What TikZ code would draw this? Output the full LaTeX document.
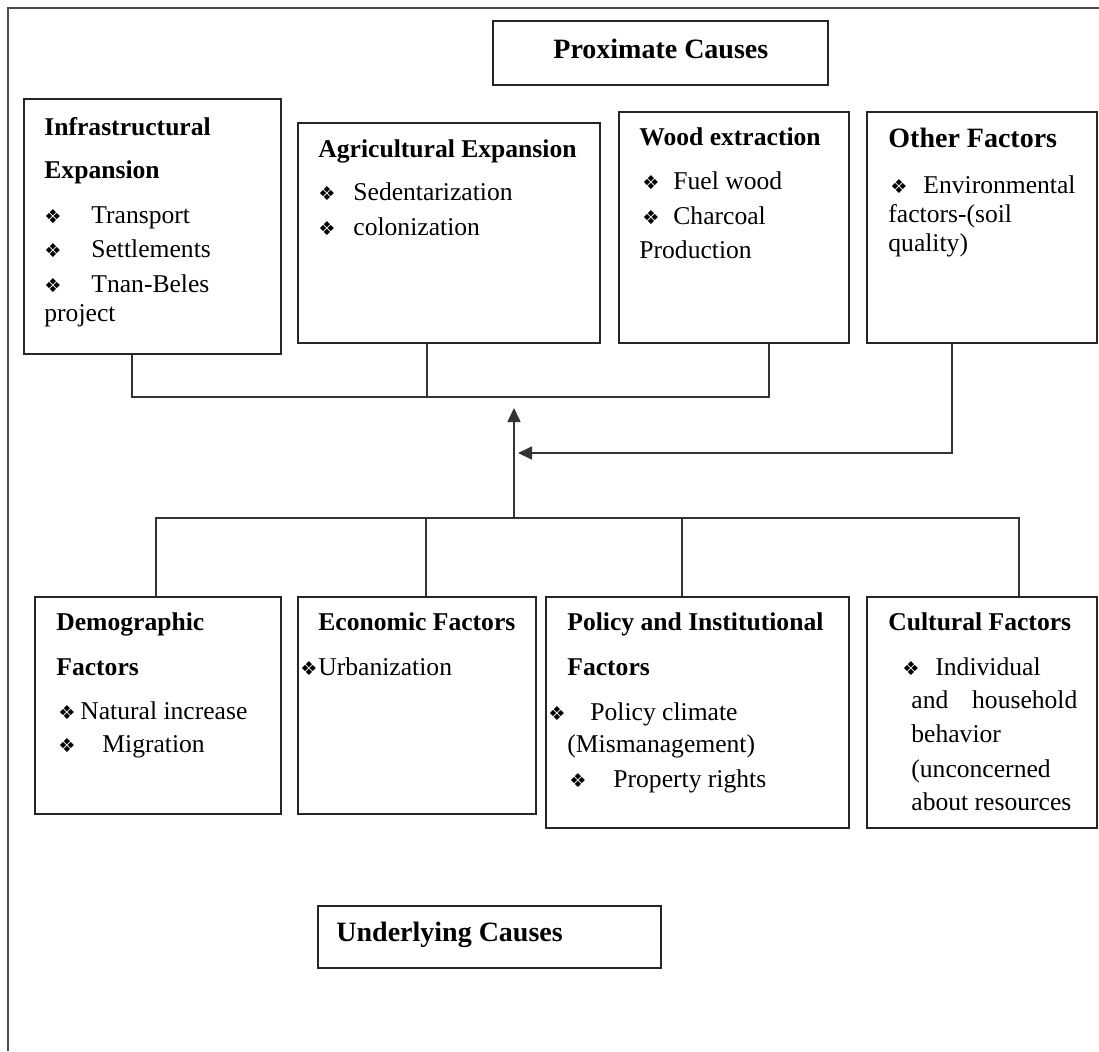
\documentclass[tikz,border=0pt]{standalone}
\usepackage{fontspec}
\setmainfont{Liberation Serif}
\newfontfamily\dingfont{DejaVu Sans}[Scale=0.75]
\usetikzlibrary{arrows.meta,fit}

\newcommand{\dia}{{\dingfont ❖}}
\newcommand{\itm}[2]{\makebox[#1][l]{\dia}#2}

\begin{document}
\begin{tikzpicture}[
    x=0.5pt, y=-0.5pt,
    box/.style={draw=black!85, line width=0.8pt, inner sep=0pt},
    txt/.style={anchor=north west, inner sep=0pt, align=left, font=\fontsize{12.8}{17}\selectfont},
    head/.style={anchor=base west, inner sep=0pt, font=\fontsize{14}{17}\selectfont\bfseries},
    link/.style={draw=black!80, line width=0.8pt},
    arrow/.style={link, -{Triangle[length=7pt,width=6.5pt]}}
]
\useasboundingbox (0,0) rectangle (1099,1051);
\draw[draw=black!70, line width=0.8pt] (8,1051) -- (8,8) -- (1099,8);

% proximate causes
\node[box, fit={(493,21) (828,85)}] (prox) {};
\node[head] (proxtxt) at (553,58) {Proximate Causes};

\node[box, fit={(24,99) (281,354)}] (infra) {};
\node[box, fit={(298,123) (600,343)}] (agri) {};
\node[box, fit={(619,112) (849,343)}] (wood) {};
\node[box, fit={(867,112) (1097,343)}] (other) {};

\node[txt] (infratxt) at (44,111) {\strut\textbf{Infrastructural}\\[4.5pt]
  \textbf{Expansion}\\[5.5pt]
  \itm{23.5pt}{Transport}\\
  \itm{23.5pt}{Settlements}\\[0.5pt]
  \itm{23.5pt}{Tnan-Beles}\\[-2.5pt]
  project};
\node[txt] (agritxt) at (318,133) {\strut\textbf{Agricultural Expansion}\\[4.5pt]
  \itm{17.5pt}{Sedentarization}\\[0.5pt]
  \itm{17.5pt}{colonization}};
\node[txt] (woodtxt) at (639,121) {\strut\textbf{Wood extraction}\\[5pt]
  \hspace*{1.5pt}\itm{15.5pt}{Fuel wood}\\[0.5pt]
  \hspace*{1.5pt}\itm{15.5pt}{Charcoal}\\
  Production};
\node[txt] (othertxt) at (888,123) {\strut{\fontsize{14}{17}\selectfont\bfseries Other Factors}\\[6pt]
  \hspace*{1pt}\itm{16.5pt}{Environmental}\\[-2.5pt]
  factors-(soil\\[-2.5pt]
  quality)};

% underlying causes
\node[box, fit={(35,597) (281,814)}] (demo) {};
\node[box, fit={(298,597) (536,814)}] (econ) {};
\node[box, fit={(546,597) (849,828)}] (policy) {};
\node[box, fit={(867,597) (1097,828)}] (cult) {};

\node[txt] (demotxt) at (56,606) {\strut\textbf{Demographic}\\[5.5pt]
  \textbf{Factors}\\[5pt]
  \hspace*{1pt}\itm{11pt}{Natural increase}\\[-0.5pt]
  \hspace*{1pt}\itm{22pt}{Migration}};
\node[txt] (econtxt) at (300,606) {\strut\hspace*{9pt}\textbf{Economic Factors}\\[5.5pt]
  \itm{9pt}{Urbanization}};
\node[txt] (policytxt) at (548,606) {\strut\hspace*{9.5pt}\textbf{Policy and Institutional}\\[5.5pt]
  \hspace*{9.5pt}\textbf{Factors}\\[5.5pt]
  \itm{21pt}{Policy climate}\\[-1pt]
  \hspace*{9.5pt}(Mismanagement)\\[0.5pt]
  \hspace*{10.5pt}\itm{22pt}{Property rights}};
\node[txt] (culttxt) at (888,606) {\strut\textbf{Cultural Factors}\\[5.5pt]
  \hspace*{7pt}\itm{16.5pt}{Individual}\\[-0.5pt]
  \hspace*{11.5pt}\makebox[83pt][s]{and household}\\
  \hspace*{11.5pt}behavior\\[0.5pt]
  \hspace*{11.5pt}(unconcerned\\[-0.5pt]
  \hspace*{11.5pt}about resources};

\node[box, fit={(318,906) (661,968)}] (under) {};
\node[head] (undertxt) at (336,941) {Underlying Causes};

\coordinate (ptip) at (514,408);
\coordinate (ubus) at (514,519);
\coordinate (join) at (518,453);

\draw[link] ([xshift=54.5pt]infra.south west) -- ++(0,42) -| ([xshift=75.5pt]wood.south west);
\draw[link] ([xshift=65pt]agri.south west) -- ++(0,53);
\draw[arrow] ([xshift=43pt]other.south west) |- (join);

\draw[link] ([xshift=61pt]demo.north west) -- ++(0,-78) -| ([xshift=76.5pt]cult.north west);
\draw[link] ([xshift=64.5pt]econ.north west) -- ++(0,-78);
\draw[link] ([xshift=68.5pt]policy.north west) -- ++(0,-78);
\draw[arrow] (ubus) -- (ptip);
\end{tikzpicture}
\end{document}
